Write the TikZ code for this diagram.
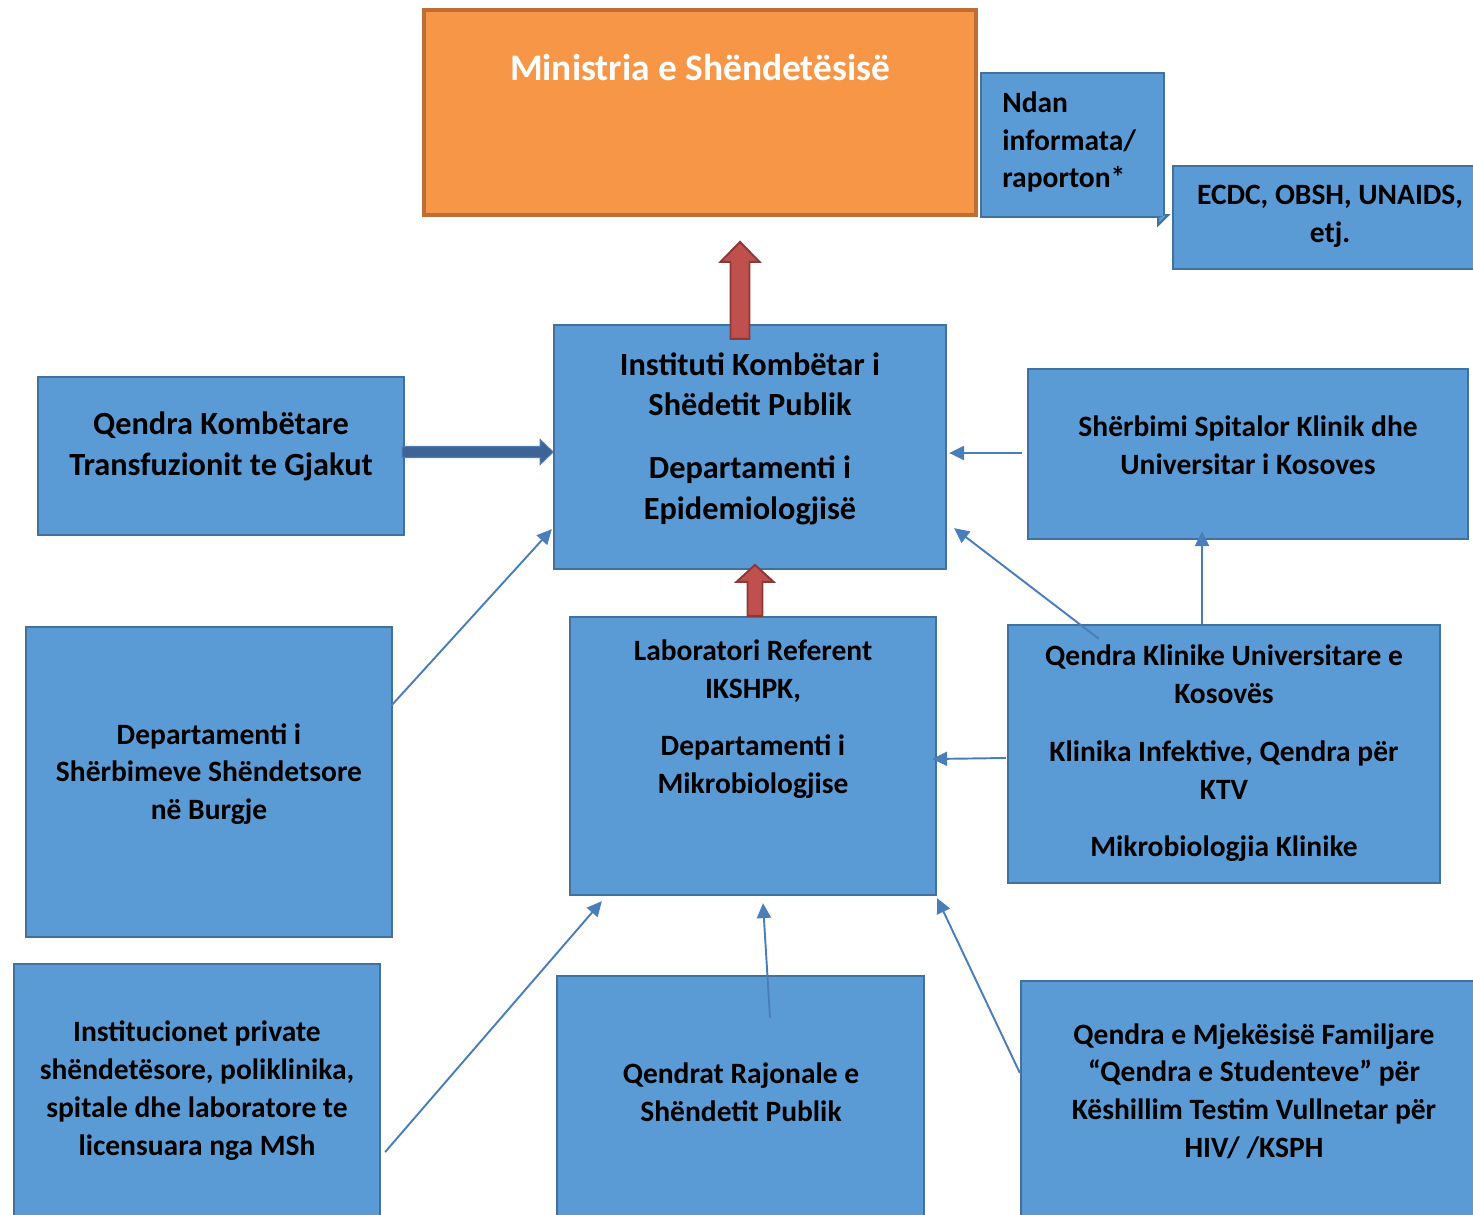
\documentclass[tikz,border=0pt]{standalone}
\usepackage{fontspec}
\setmainfont{Carlito}
\usetikzlibrary{arrows.meta,calc}
\definecolor{boxfill}{RGB}{91,155,213}
\definecolor{boxline}{RGB}{65,113,156}
\definecolor{orfill}{RGB}{247,150,70}
\definecolor{orline}{RGB}{190,110,50}
\definecolor{redfill}{RGB}{192,80,77}
\definecolor{redline}{RGB}{140,56,54}
\definecolor{linkblue}{RGB}{74,126,187}
\definecolor{darkfill}{RGB}{60,100,150}
\definecolor{darkline}{RGB}{85,125,180}
\begin{document}
\begin{tikzpicture}[x=0.02cm, y=-0.02cm,
  box/.style={draw=boxline, fill=boxfill, line width=1.3pt, inner sep=0pt},
  wh/.style 2 args={minimum width=#1*0.02cm, minimum height=#2*0.02cm},
  txt/.style={align=center, inner sep=0pt, font=\bfseries\fontsize{16.8}{21.5}\selectfont},
  bigtxt/.style={txt, font=\bfseries\fontsize{18.4}{23.2}\selectfont},
  link/.style={draw=linkblue, line width=1.1pt, -{Triangle[length=8.5pt,width=8pt]}},
  redblock/.style={fill=redfill, draw=redline, line width=1.1pt},
  blueblock/.style={fill=darkfill, draw=darkline, line width=0.6pt}]
\useasboundingbox (0,0) rectangle (1473,1214);

% boxes
\node[box, wh={552}{205}, fill=orfill, draw=orline, line width=2.3pt] (min) at (700,112.5) {};
\node[box, wh={183}{144}] (ndan) at (1072.5,145) {};
\node[box, wh={317}{103}] (ecdc) at (1331.5,217.5) {};
\node[box, wh={392}{244}] (inst) at (750,447) {};
\node[box, wh={366}{158}] (transf) at (221,456) {};
\node[box, wh={440}{170}] (spital) at (1248,454) {};
\node[box, wh={366}{310}] (burg) at (209,782) {};
\node[box, wh={366}{278}] (lab) at (753,756) {};
\node[box, wh={432}{258}] (qkuk) at (1224,754) {};
\node[box, wh={366}{266}] (priv) at (197,1097) {};
\node[box, wh={367}{254}] (rajon) at (740.5,1103) {};
\node[box, wh={469}{249}] (mjek) at (1255.5,1105.5) {};
\filldraw[draw=boxline, fill=boxfill, line width=1.1pt] ($(ndan.south east)+(-7,0)$) -- ++(0,7) -- ++(10,-10) -- ++(-3,0);

% texts
\node[txt, text=white, font=\bfseries\fontsize{21.3}{25}\selectfont] (min-t) at (700,68) {Ministria e Shëndetësisë};
\node[txt, align=left, anchor=west] (ndan-t) at (1002,142) {Ndan\\informata/\\raporton*};
\node[txt] (ecdc-t) at (1330,216.5) {ECDC, OBSH, UNAIDS,\\etj.};
\node[bigtxt] (inst-t) at (750,438.5) {Instituti Kombëtar i\\Shëdetit Publik\\[12.5pt]Departamenti i\\Epidemiologjisë};
\node[bigtxt] (transf-t) at (221,446.5) {Qendra Kombëtare\\Transfuzionit te Gjakut};
\node[txt] (spital-t) at (1248,445.5) {Shërbimi Spitalor Klinik dhe\\Universitar i Kosoves};
\node[txt] (burg-t) at (209,774) {Departamenti i\\Shërbimeve Shëndetsore\\në Burgje};
\node[txt] (lab-t) at (753,719) {Laboratori Referent\\IKSHPK,\\[11.3pt]Departamenti i\\Mikrobiologjise};
\node[txt] (qkuk-t) at (1224,753.5) {Qendra Klinike Universitare e\\Kosovës\\[11.3pt]Klinika Infektive, Qendra për\\KTV\\[11.3pt]Mikrobiologjia Klinike};
\node[txt] (priv-t) at (197,1090.5) {Institucionet private\\shëndetësore, poliklinika,\\spitale dhe laboratore te\\licensuara nga MSh};
\node[txt] (rajon-t) at (741,1092) {Qendrat Rajonale e\\Shëndetit Publik};
\node[txt] (mjek-t) at (1254,1091) {Qendra e Mjekësisë Familjare\\“Qendra e Studenteve” për\\Këshillim Testim Vullnetar për\\HIV/ /KSPH};

% block arrows
\filldraw[redblock] ($(inst.north)+(-10,15)$) ++(-9.5,0) -- ++(0,-77) -- ++(-10,0) -- ++(19.5,-20) -- ++(19.5,20) -- ++(-10,0) -- ++(0,77) -- cycle;
\filldraw[redblock] ($(lab.north)+(2,0)$) ++(-7.5,0) -- ++(0,-34) -- ++(-11,0) -- ++(18.5,-17) -- ++(18.5,17) -- ++(-11,0) -- ++(0,34) -- cycle;
\filldraw[blueblock] ($(transf.east)+(-3,-4)$) ++(0,-5.5) -- ++(138,0) -- ++(0,-7) -- ++(13,12.5) -- ++(-13,12.5) -- ++(0,-7) -- ++(-138,0) -- cycle;

% thin arrows
\draw[link] ($(spital.west)+(-5,-1)$) -- ($(inst.east)+(2,6)$);
\draw[link] ($(qkuk.north west)+(92,15)$) -- ($(inst.south east)+(7,-42)$);
\draw[link] ($(qkuk.north)+(-22,0)$) -- ($(spital.south)+(-46,-9)$);
\draw[link] ($(qkuk.west)+(-1,4)$) -- ($(lab.east)+(-5,3)$);
\draw[link] ($(burg.north east)+(-2,80)$) -- ($(inst.south west)+(-1,-41)$);
\draw[link] ($(priv.east)+(4,55)$) -- ($(lab.south west)+(33,5)$);
\draw[link] ($(rajon.north)+(29.5,43)$) -- ($(lab.south)+(10,7)$);
\draw[link] ($(mjek.west)+(0,-32.5)$) -- ($(lab.south east)+(0,2)$);
\end{tikzpicture}
\end{document}
